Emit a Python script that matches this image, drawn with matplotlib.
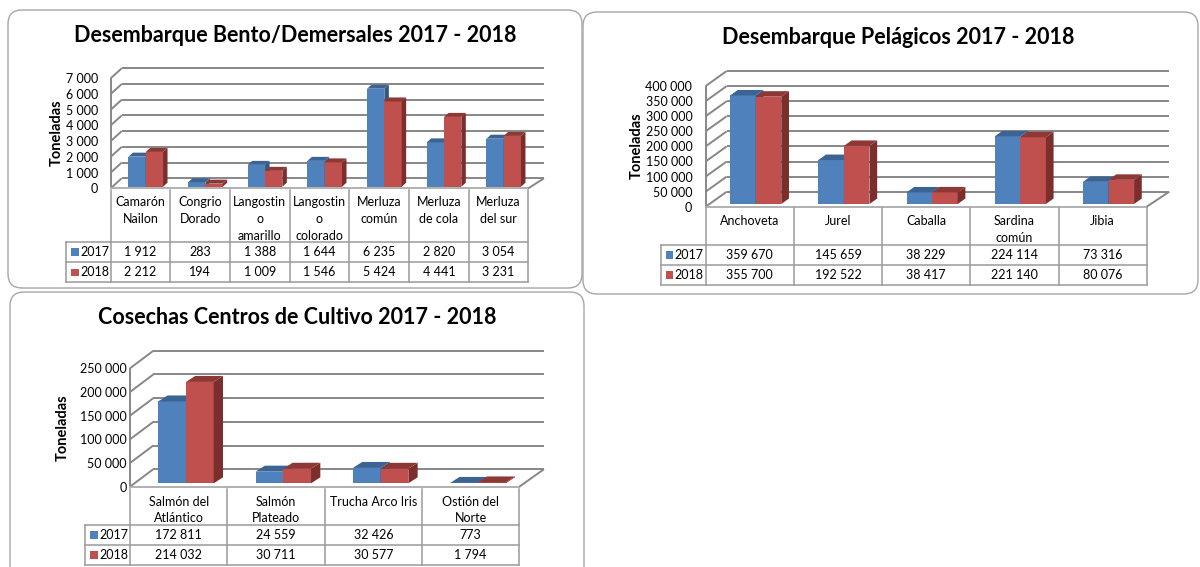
import matplotlib
matplotlib.use("Agg")
import numpy as np
import matplotlib.pyplot as plt
from matplotlib.patches import FancyBboxPatch, Polygon, Rectangle

plt.rcParams['font.family'] = ['Lato', 'DejaVu Sans']

# ---------------- data ----------------
years = ["2017", "2018"]

dem_title = "Desembarque Bento/Demersales 2017 - 2018"
dem_categories = ["Camarón\nNailon", "Congrio\nDorado", "Langostin\no\namarillo",
                  "Langostin\no\ncolorado", "Merluza\ncomún", "Merluza\nde cola", "Merluza\ndel sur"]
dem_2017 = [1912, 283, 1388, 1644, 6235, 2820, 3054]
dem_2018 = [2212, 194, 1009, 1546, 5424, 4441, 3231]
dem_ticks = [0, 1000, 2000, 3000, 4000, 5000, 6000, 7000]

pel_title = "Desembarque Pelágicos 2017 - 2018"
pel_categories = ["Anchoveta", "Jurel", "Caballa", "Sardina\ncomún", "Jibia"]
pel_2017 = [359670, 145659, 38229, 224114, 73316]
pel_2018 = [355700, 192522, 38417, 221140, 80076]
pel_ticks = [0, 50000, 100000, 150000, 200000, 250000, 300000, 350000, 400000]

cul_title = "Cosechas Centros de Cultivo 2017 - 2018"
cul_categories = ["Salmón del\nAtlántico", "Salmón\nPlateado", "Trucha Arco Iris", "Ostión del\nNorte"]
cul_2017 = [172811, 24559, 32426, 773]
cul_2018 = [214032, 30711, 30577, 1794]
cul_ticks = [0, 50000, 100000, 150000, 200000, 250000]

ylabel = "Toneladas"

# ---------------- style ----------------
BLUE, BLUE_SIDE, BLUE_TOP = "#4F81BD", "#345882", "#3B6494"
RED, RED_SIDE, RED_TOP = "#C0504D", "#7B2E2C", "#8E3835"
GRID = "#878787"
TAB = "#9a9a9a"
BOX = "#a6a6a6"
FS = 9

W, H = 1200, 567
fig = plt.figure(figsize=(12, 5.67), dpi=100)

bg = fig.add_axes([0, 0, 1, 1])
bg.set_xlim(0, W)
bg.set_ylim(H, 0)
bg.axis('off')


def px_axes(x0, y0, x1, y1):
    a = fig.add_axes([x0 / W, 1 - y1 / H, (x1 - x0) / W, (y1 - y0) / H])
    a.patch.set_visible(False)
    return a


def fmt(v):
    return f"{v:,}".replace(",", " ")


def box(x0, y0, x1, y1):
    bg.add_patch(FancyBboxPatch((x0, y0), x1 - x0, y1 - y0,
                                boxstyle="round,pad=0,rounding_size=14",
                                fc="white", ec=BOX, lw=1.0))


def chart(title, cats, s17, s18, ticks, L):
    fl, ft, fr, fb = L['front']
    n = len(cats)
    ymax = ticks[-1]
    bg.text(L['title'][0], L['title'][1], title, ha='center', va='center',
            fontsize=15.5, fontweight='bold')
    bg.text(L['ylab'][0], L['ylab'][1], ylabel, ha='center', va='center',
            rotation=90, fontsize=10.5, fontweight='bold')

    ax = px_axes(fl, ft, fr, fb)
    ax.set_xlim(0, n)
    ax.set_ylim(0, ymax)
    for s in ax.spines.values():
        s.set_visible(False)
    ax.set_xticks([])
    ax.set_yticks(ticks)
    ax.set_yticklabels([fmt(t) for t in ticks])
    ax.tick_params(axis='y', length=0, pad=L['pad'] * 0.72, labelsize=FS)

    kx = n / (fr - fl)
    ky = ymax / (fb - ft)
    dxl = L['dxl'] * kx
    dxr = L['dxr'] * kx
    dyw = L['dy'] * ky
    g = dict(color=GRID, lw=1.4, clip_on=False, zorder=1, solid_capstyle='butt')
    for t in ticks:
        ax.plot([dxl, n + dxr], [t + dyw, t + dyw], **g)
        ax.plot([0, dxl], [t, t + dyw], **g)
    ax.plot([0, 0], [0, ymax], **g)
    ax.plot([0, n], [0, 0], color="#b0b0b0", lw=1.4, clip_on=False, zorder=1)
    ax.plot([n, n + dxr], [0, dyw], **g)

    bw = L['bw']
    sx = L['shift'] * kx
    lift = L['lift'] * ky
    ddx = L['depth'][0] * kx
    ddy = L['depth'][1] * ky
    idx = np.arange(n)
    for vals, fc, sc, tc, off, z in [(s17, BLUE, BLUE_SIDE, BLUE_TOP, -bw, 3),
                                      (s18, RED, RED_SIDE, RED_TOP, 0.0, 4)]:
        bars = ax.bar(idx + 0.5 + off + sx, vals, width=bw, bottom=lift, align='edge',
                      color=fc, zorder=z, clip_on=False)
        for r in bars:
            x, y, w, h = r.get_x(), r.get_y(), r.get_width(), r.get_height()
            ax.add_patch(Polygon([(x + w, y), (x + w, y + h), (x + w + ddx, y + h + ddy),
                                  (x + w + ddx, y + ddy)], closed=True, fc=sc, ec='none',
                                 zorder=z, clip_on=False))
            ax.add_patch(Polygon([(x, y + h), (x + w, y + h), (x + w + ddx, y + h + ddy),
                                  (x + ddx, y + h + ddy)], closed=True, fc=tc, ec='none',
                                 zorder=z, clip_on=False))

    # data table
    ll, ht, r1, r2, tb = L['table']
    colw = (fr - fl) / n
    legw = (fl - ll) / colw
    tax = px_axes(ll, ht, fr, tb)
    tax.set_xlim(-legw, n)
    tax.set_ylim(tb - ht, 0)
    tax.axis('off')
    ln = dict(color=TAB, lw=1.1, clip_on=False, solid_capstyle='projecting')
    for i in range(n + 1):
        tax.plot([i, i], [0, tb - ht], **ln)
    tax.plot([-legw, -legw], [r1 - ht, tb - ht], **ln)
    for yy in (r1, r2, tb):
        tax.plot([-legw, n], [yy - ht, yy - ht], **ln)
    for i, c in enumerate(cats):
        tax.text(i + 0.5, L['hdr'], c, ha='center', va='top', fontsize=FS,
                 linespacing=L['ls'])
    rows = [(s17, BLUE, years[0], r1, r2), (s18, RED, years[1], r2, tb)]
    for vals, col, yr, ya, yb in rows:
        yc = (ya + yb) / 2 - ht
        for i, v in enumerate(vals):
            tax.text(i + 0.5, yc, fmt(v), ha='center', va='center', fontsize=FS)
        tax.add_patch(Rectangle((-legw + 5.0 / colw, yc - 3.8), 7.6 / colw, 7.6,
                                fc=col, ec='none', clip_on=False))
        tax.text(-legw + 14.0 / colw, yc, yr, ha='left', va='center', fontsize=FS)


box(8, 10, 582, 288)
box(583, 12, 1198, 294)
box(10, 292, 584, 610)

chart(dem_title, dem_categories, dem_2017, dem_2018, dem_ticks, dict(
    front=(110.7, 78.3, 528.3, 188.3), dxl=11, dxr=15.7, dy=10, pad=12.4,
    bw=0.29, shift=5.2, lift=1.6, depth=(4.5, 4),
    table=(66, 190, 241.7, 262.3, 282.3), hdr=5.5, ls=1.5,
    title=(295, 35), ylab=(57, 133)))

chart(pel_title, pel_categories, pel_2017, pel_2018, pel_ticks, dict(
    front=(705.7, 86, 1146.7, 206.7), dxl=21, dxr=22.6, dy=15, pad=13.4,
    bw=0.29, shift=5.9, lift=2.7, depth=(7.7, 5.5),
    table=(660.7, 208.3, 245, 265, 285), hdr=7, ls=1.45,
    title=(898, 38), ylab=(637, 146)))

chart(cul_title, cul_categories, cul_2017, cul_2018, cul_ticks, dict(
    front=(130, 368.3, 519.3, 486.7), dxl=23.3, dxr=24.7, dy=17.5, pad=3.3,
    bw=0.285, shift=7.3, lift=3.4, depth=(9.3, 6),
    table=(85, 489.3, 525, 545, 565), hdr=7, ls=1.42,
    title=(297, 318), ylab=(63, 428)))

fig.savefig("out.png", dpi=100)
